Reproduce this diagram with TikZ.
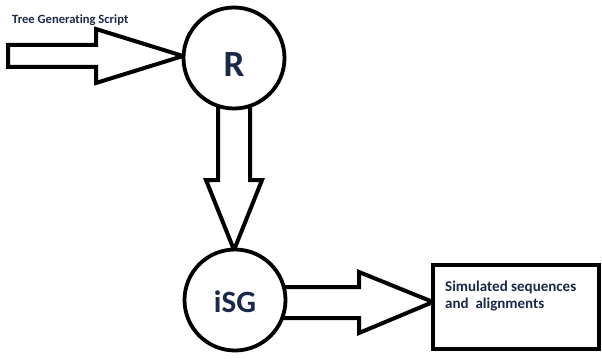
\documentclass[tikz,border=0pt]{standalone}
\usepackage{fontspec}
\setmainfont{Carlito}[Ligatures=NoCommon]
\usetikzlibrary{calc}
\definecolor{navy}{RGB}{25,40,75}
\tikzset{
  blockarrow/.style={draw=black, line width=4pt, fill=white, line join=miter},
  ring/.style={circle, draw=black, line width=3.8pt, fill=white, minimum size=101pt, inner sep=0pt},
  outbox/.style={rectangle, draw=black, line width=4pt, fill=white, minimum width=166pt, minimum height=84pt, inner sep=0pt},
  lbl/.style={text=navy, inner sep=0pt, font=\bfseries\fontsize{15}{17}\selectfont}
}
\begin{document}
\begin{tikzpicture}[x=1pt, y=-1pt]
\useasboundingbox (0,0) rectangle (602,361);
% node positions
\coordinate (Rc) at (234,58);
\coordinate (Ic) at (235,300);
\coordinate (Bc) at (516,307);
\coordinate (src) at (8,56);
% left block arrow (into R)
\coordinate (tipA) at (183,56);
\draw[blockarrow] (tipA) -- ++(-87,-27) -- ++(0,16) -- (src |- 0,45) -- (src |- 0,67) -- ($(tipA)+(-87,11)$) -- ++(0,16) -- cycle;
% down block arrow (R to iSG)
\draw[blockarrow] ($(Ic)+(-1,-50)$) -- ++(-28,-70) -- ++(12,0) -- ($(Rc)+(-16,40)$) -- ($(Rc)+(16,40)$) -- ($(Ic)+(15,-120)$) -- ++(12,0) -- cycle;
% right block arrow (iSG to box)
\draw[blockarrow] (433,302) -- ++(-74,-30) -- ++(0,15) -- ($(Ic)+(20,-13)$) -- ($(Ic)+(20,18)$) -- (359,318) -- ++(0,15) -- cycle;
% nodes
\node[ring] (R) at (Rc) {};
\node[ring] (iSG) at (Ic) {};
\node[outbox] (box) at (Bc) {};
\node[text=navy, font=\bfseries\fontsize{37}{37}\selectfont] (Rlbl) at ($(R.center)+(0,7)$) {R};
\node[text=navy, font=\bfseries\fontsize{31}{31}\selectfont] (Ilbl) at ($(iSG.center)+(0,2)$) {iSG};
\node[lbl, font=\bfseries\fontsize{12.6}{15}\selectfont, anchor=base west] (tgs) at (12,24) {Tree Generating Script};
\node[lbl, anchor=north west, align=left] (out) at ($(box.north west)+(14,18)$) {Simulated sequences\\and\ \ alignments};
\end{tikzpicture}
\end{document}
